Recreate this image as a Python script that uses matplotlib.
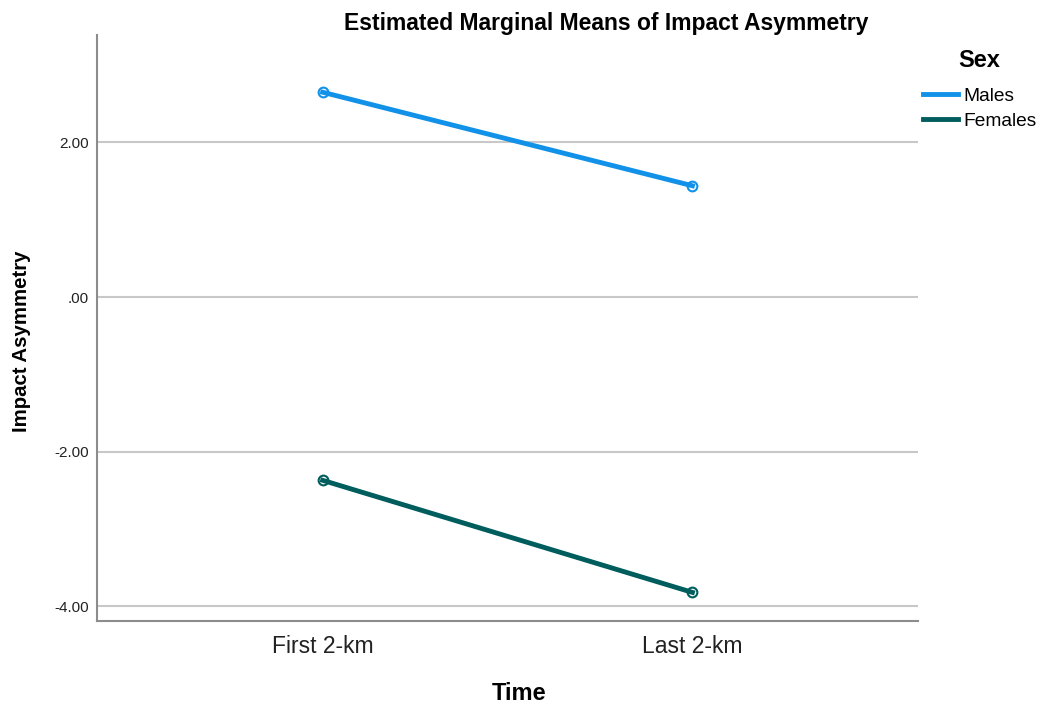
import matplotlib.pyplot as plt
from matplotlib.lines import Line2D

plt.rcParams['font.family'] = ['Liberation Sans', 'DejaVu Sans']

time_labels = ['First 2-km', 'Last 2-km']
males = [2.65, 1.44]
females = [-2.37, -3.82]
y_ticks = [-4.0, -2.0, 0.0, 2.0]
y_tick_labels = ['-4.00', '-2.00', '.00', '2.00']
male_color = '#1192e8'
female_color = '#005d5d'

fig = plt.figure(figsize=(10.4, 7.06), dpi=100)
ax = fig.add_axes([0.0933, 0.1204, 0.7894, 0.83])

x = range(len(time_labels))
ax.plot(x, males, color=male_color, lw=3.5, marker='o', ms=7, mfc='none', mew=1.5, zorder=3)
ax.plot(x, females, color=female_color, lw=3.5, marker='o', ms=7, mfc='none', mew=1.5, zorder=3)

ax.set_xlim(-0.61, 1.61)
ax.set_ylim(-4.19, 3.39)
ax.set_xticks(list(x))
ax.set_xticklabels(time_labels, fontsize=16.5, color='#222222')
ax.set_yticks(y_ticks)
ax.set_yticklabels(y_tick_labels, fontsize=11, color='#222222')
ax.tick_params(axis='y', length=0, pad=6)
ax.tick_params(axis='x', length=0, pad=10)
ax.grid(axis='y', color='#c8c8c8', lw=1.5)
ax.set_axisbelow(True)
for side in ['top', 'right']:
    ax.spines[side].set_visible(False)
for side in ['left', 'bottom']:
    ax.spines[side].set_color('#8c8c8c')
    ax.spines[side].set_linewidth(1.5)

ax.set_xlabel('Time', fontsize=17, fontweight='bold', va='center')
ax.xaxis.set_label_coords(0.5135, -0.124)
ax.set_ylabel('Impact Asymmetry', fontsize=14.7, fontweight='bold', va='center')
ax.yaxis.set_label_coords(-0.0914, 0.478)
fig.text(0.583, 0.967, 'Estimated Marginal Means of Impact Asymmetry',
         fontsize=16.5, fontweight='bold', ha='center', va='center')

# legend: title drawn separately so the gap can be controlled
fig.text(0.942, 0.915, 'Sex', fontsize=17, fontweight='bold', ha='center', va='center')
handles = [Line2D([], [], color=male_color, lw=3.5),
           Line2D([], [], color=female_color, lw=3.5)]
fig.legend(handles, ['Males', 'Females'], loc='upper left',
           bbox_to_anchor=(0.8875, 0.876), bbox_transform=fig.transFigure,
           frameon=False, fontsize=13.8, handlelength=1.85, handletextpad=0.25,
           labelspacing=0.38, borderpad=0, borderaxespad=0)

fig.savefig('out.png', dpi=100)
